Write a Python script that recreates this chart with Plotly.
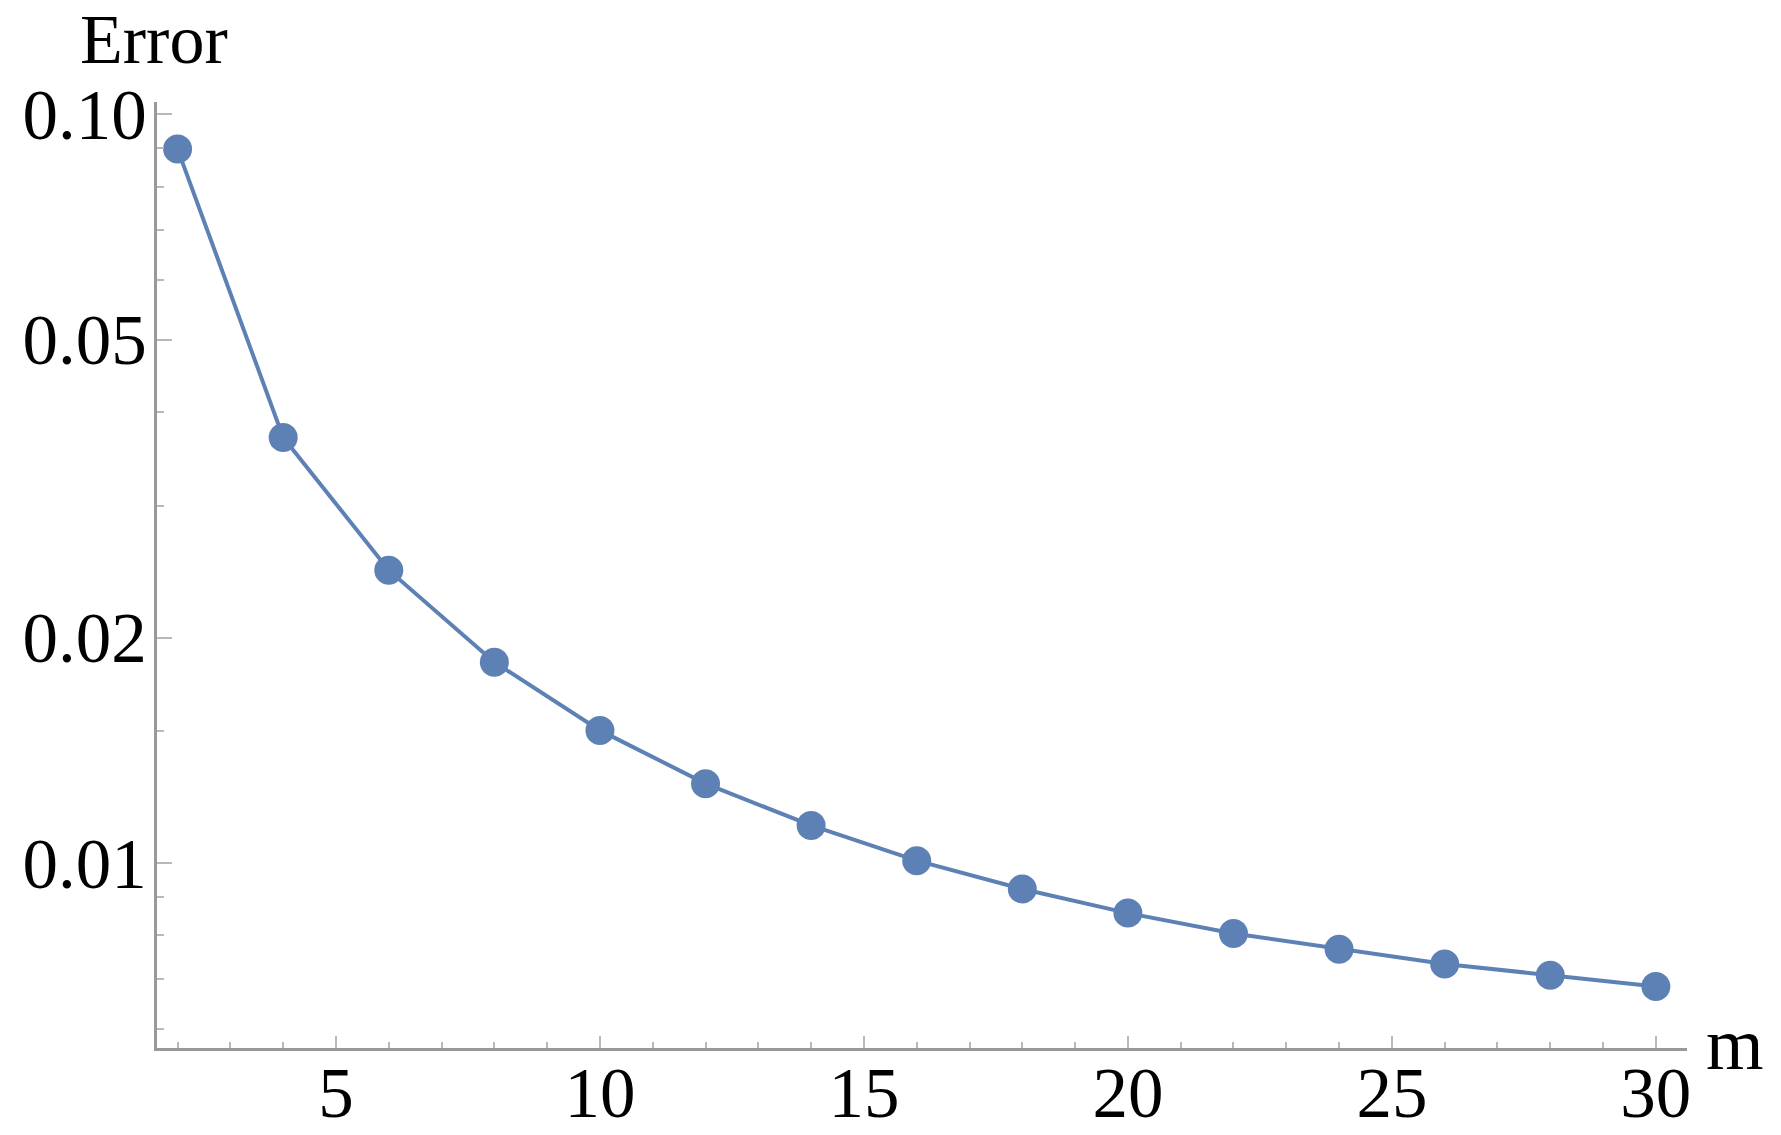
import numpy as np
import plotly.graph_objects as go

# values (log-scaled y axis)
m_values = [2, 4, 6, 8, 10, 12, 14, 16, 18, 20, 22, 24, 26, 28, 30]
error_values = [0.0898, 0.0370, 0.0246, 0.01854, 0.01503, 0.01276, 0.01122,
                0.01007, 0.00923, 0.00857, 0.00805, 0.00767, 0.00733, 0.00708, 0.00684]

x_ticks = [5, 10, 15, 20, 25, 30]
x_minor = [v for v in range(2, 31) if v % 5 != 0]
y_ticks = [0.01, 0.02, 0.05, 0.10]
y_tick_text = ["0.01", "0.02", "0.05", "0.10"]
y_minor = [0.006, 0.007, 0.008, 0.009, 0.015, 0.03, 0.04, 0.06, 0.07, 0.08, 0.09]

BLUE = "#5E81B5"
AXIS = "#999999"
TICK = "#b8b8b8"
SERIF = "Liberation Serif, Times New Roman, serif"
FONT = dict(family=SERIF, size=71, color="black")

fig = go.Figure(go.Scatter(
    x=m_values, y=error_values, mode="lines+markers",
    line=dict(color=BLUE, width=4),
    marker=dict(color=BLUE, size=29),
    showlegend=False,
))

fig.update_layout(
    width=1781, height=1135,
    margin=dict(l=157, r=94, t=102, b=87),
    paper_bgcolor="white", plot_bgcolor="white",
    font=FONT,
    xaxis=dict(
        range=[1.61, 30.59], tickvals=x_ticks, ticks="inside", ticklen=12,
        tickwidth=2, tickcolor=TICK, showgrid=False, zeroline=False,
        showline=True, linecolor=AXIS, linewidth=3, automargin=False,
        ticklabelstandoff=-19,
        minor=dict(tickvals=x_minor, ticks="inside", ticklen=6, tickwidth=2,
                   tickcolor=TICK, showgrid=False),
        tickfont=FONT,
    ),
    yaxis=dict(
        type="log", range=[np.log10(0.00566), np.log10(0.1038)],
        tickvals=y_ticks, ticktext=y_tick_text, ticks="inside", ticklen=15,
        tickwidth=2, tickcolor=TICK, showgrid=False, zeroline=False,
        showline=True, linecolor=AXIS, linewidth=3, automargin=False,
        ticklabelstandoff=-7,
        minor=dict(tickvals=y_minor, ticks="inside", ticklen=7, tickwidth=2,
                   tickcolor=TICK, showgrid=False),
        tickfont=FONT,
    ),
    annotations=[
        dict(text="Error", xref="paper", yref="paper", x=0, y=1,
             xanchor="center", yanchor="bottom", xshift=-3, yshift=22,
             showarrow=False, font=dict(family=SERIF, size=70, color="black")),
        dict(text="m", xref="paper", yref="paper", x=1, y=0,
             xanchor="left", yanchor="middle", xshift=17, yshift=4,
             showarrow=False, font=dict(family=SERIF, size=74, color="black")),
    ],
)

fig.write_html("out.html", config={"displayModeBar": False},
               post_script="document.body.style.margin='0';")
